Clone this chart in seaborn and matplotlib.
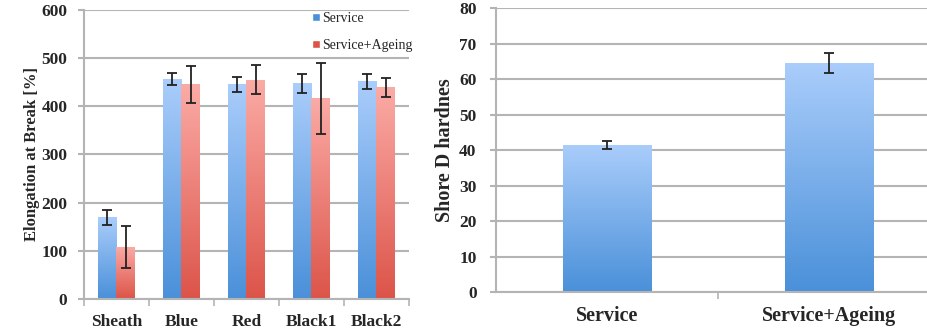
import numpy as np
import pandas as pd
import matplotlib
matplotlib.use("Agg")
import matplotlib.pyplot as plt
from matplotlib.colors import LinearSegmentedColormap
from matplotlib.patches import Patch
import seaborn as sns

# Elongation at break per cable component
components = ["Sheath", "Blue", "Red", "Black1", "Black2"]
service_elong = [169, 456, 445, 447, 451]
service_elong_err = [15, 13, 16, 19, 15]
ageing_elong = [108, 445, 455, 416, 439]
ageing_elong_err = [44, 39, 30, 73, 20]
conditions = ["Service", "Service+Ageing"]

# Shore D hardness per condition
hardness = [41.5, 64.5]
hardness_err = [1.2, 2.8]

sns.set_theme(style="white")
plt.rcParams["font.family"] = ["Liberation Serif", "DejaVu Serif"]

GRID = "#b4b4b4"
BLUE = ("#aacdfb", "#4a90d9")
RED = ("#fbaba6", "#dc5449")


def gradient_fill(ax, patch, top, bottom):
    x0, y0 = patch.get_x(), patch.get_y()
    w, h = patch.get_width(), patch.get_height()
    cmap = LinearSegmentedColormap.from_list("g", [bottom, top])
    grad = np.linspace(0, 1, 256).reshape(-1, 1)
    im = ax.imshow(grad, extent=(x0, x0 + w, y0, y0 + h), origin="lower",
                   aspect="auto", cmap=cmap, zorder=2, interpolation="bicubic")
    im.set_clip_path(patch)
    patch.set_facecolor("none")
    patch.set_edgecolor("none")


def style_axes(ax, ymax, ystep, fs, ypad, xfs, xpad):
    ax.set_ylim(0, ymax)
    ax.set_yticks(np.arange(0, ymax + 1, ystep))
    ax.yaxis.grid(True, color=GRID, linewidth=1.5, zorder=0)
    ax.set_axisbelow(True)
    for s in ["top", "right"]:
        ax.spines[s].set_visible(False)
    for s in ["left", "bottom"]:
        ax.spines[s].set_color(GRID)
        ax.spines[s].set_linewidth(1.5)
    ax.tick_params(axis="y", which="major", length=4, width=1.5, color=GRID,
                   labelsize=fs, pad=ypad, left=True)
    ax.tick_params(axis="x", which="major", length=0, labelsize=xfs, pad=xpad)
    ax.tick_params(axis="x", which="minor", length=5, width=1.2, color=GRID,
                   bottom=True)
    for lab in ax.get_yticklabels() + ax.get_xticklabels():
        lab.set_fontweight("bold")


fig = plt.figure(figsize=(9.28, 3.3), dpi=100)

# Left panel: grouped bars
ax1 = fig.add_axes([0.0905, 0.094, 0.3502, 0.877])
df = pd.DataFrame({
    "component": components * 2,
    "condition": [conditions[0]] * 5 + [conditions[1]] * 5,
    "value": service_elong + ageing_elong,
})
sns.barplot(data=df, x="component", y="value", hue="condition",
            order=components, hue_order=conditions, width=0.58,
            palette=[BLUE[1], RED[1]], errorbar=None, ax=ax1, zorder=2)
errs = [service_elong_err, ageing_elong_err]
cols = [BLUE, RED]
for container, err, col in zip(ax1.containers, errs, cols):
    xs = [p.get_x() + p.get_width() / 2 for p in container.patches]
    ys = [p.get_height() for p in container.patches]
    for p in container.patches:
        gradient_fill(ax1, p, col[0], col[1])
    ax1.errorbar(xs, ys, yerr=err, fmt="none", ecolor="#222222",
                 elinewidth=1.3, capsize=3.3, capthick=1.3, zorder=4)
ax1.set_xlim(-0.5, len(components) - 0.5)
ax1.set_xticks(np.arange(-0.5, len(components)), minor=True)
style_axes(ax1, 600, 100, 12.5, 8, 12.5, 11)
ax1.set_xlabel("")
ax1.set_ylabel("Elongation at Break [%]", fontsize=12, fontweight="bold",
               labelpad=1)
leg = ax1.legend([Patch(facecolor=BLUE[1]), Patch(facecolor=RED[1])],
                 conditions, loc="upper right", bbox_to_anchor=(1.035, 1.02),
                 frameon=False, fontsize=10, handlelength=0.55,
                 handleheight=0.55, handletextpad=0.15, labelspacing=1.0,
                 borderaxespad=0.2)
leg.set_zorder(5)

# Right panel: hardness bars
ax2 = fig.add_axes([0.5345, 0.1142, 0.4655, 0.8606])
df2 = pd.DataFrame({"condition": conditions, "value": hardness})
sns.barplot(data=df2, x="condition", y="value", order=conditions,
            width=0.4, color=BLUE[1], errorbar=None, ax=ax2, zorder=2)
xs = [p.get_x() + p.get_width() / 2 for p in ax2.patches]
ys = [p.get_height() for p in ax2.patches]
for p in list(ax2.patches):
    gradient_fill(ax2, p, BLUE[0], BLUE[1])
ax2.errorbar(xs, ys, yerr=hardness_err, fmt="none", ecolor="#222222",
             elinewidth=1.3, capsize=3.3, capthick=1.3, zorder=4)
ax2.set_xlim(-0.5, 1.446)
ax2.set_xticks([0.5], minor=True)
style_axes(ax2, 80, 10, 12.5, 10, 14.5, 10)
ax2.set_xlabel("")
ax2.set_ylabel("Shore D hardnes", fontsize=14.5, fontweight="bold",
               labelpad=3)

fig.savefig("out.png", dpi=100)
